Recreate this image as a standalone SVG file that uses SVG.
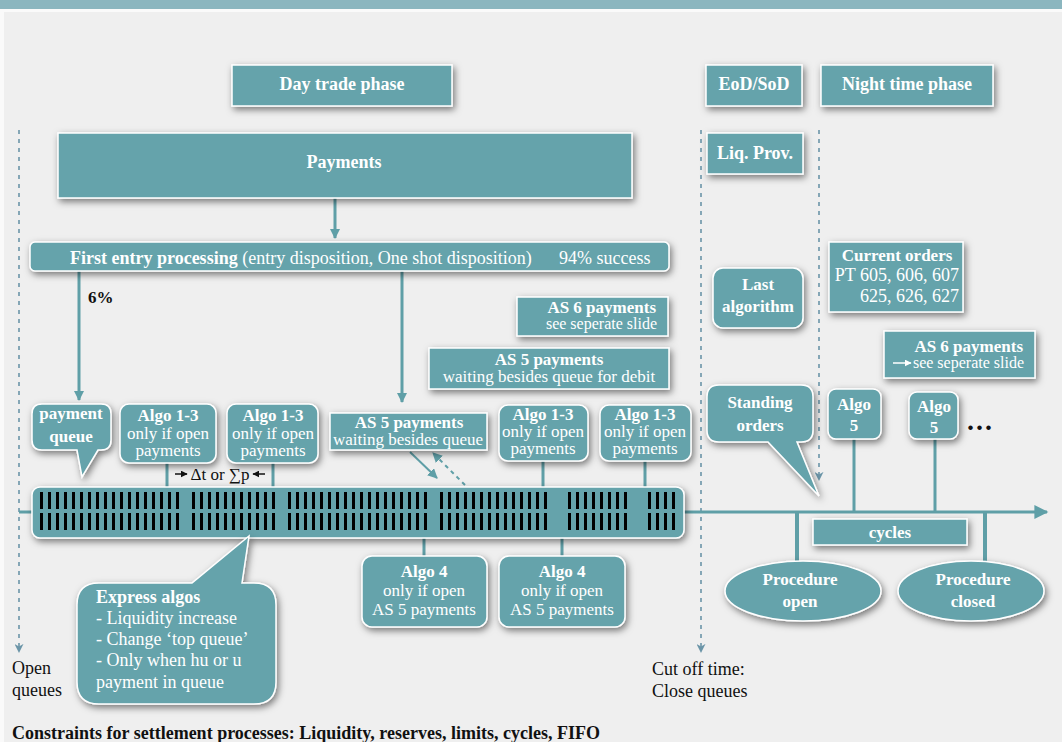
<svg xmlns="http://www.w3.org/2000/svg" width="1062" height="742" viewBox="0 0 1062 742">
<defs>
<style>
.box{fill:#65a3ab;stroke:#fff;stroke-width:1.5;filter:url(#sh)}
.t{font-family:"Liberation Serif","Times New Roman",serif;fill:#fff;text-anchor:middle;font-size:17px}
.b{font-weight:bold}
.k{fill:#111}
.s{text-anchor:start}
.l18{font-size:18px}
.ln{stroke:#5f9fa7;stroke-width:3;fill:none}
.dot{stroke:#6b95a8;stroke-width:1.6;stroke-dasharray:4 5;fill:none}
</style>
<filter id="sh" x="-20%" y="-30%" width="150%" height="180%">
<feDropShadow dx="2" dy="3" stdDeviation="3.5" flood-color="#000" flood-opacity="0.5"/>
</filter>
<marker id="ah" viewBox="0 0 10 10" refX="9" refY="5" markerWidth="10" markerHeight="10" markerUnits="userSpaceOnUse" orient="auto"><path d="M0,0 L10,5 L0,10 z" fill="#5f9fa7"/></marker>
<marker id="ahBig" viewBox="0 0 10 10" refX="9" refY="5" markerWidth="20" markerHeight="14" markerUnits="userSpaceOnUse" orient="auto"><path d="M0,0 L10,5 L0,10 z" fill="#5f9fa7"/></marker>
<marker id="ahDot" viewBox="0 0 10 10" refX="9" refY="5" markerWidth="9" markerHeight="9" markerUnits="userSpaceOnUse" orient="auto"><path d="M0,0 L10,5 L0,10 L3,5 z" fill="#6b95a8"/></marker>
<marker id="ahK" viewBox="0 0 10 10" refX="9" refY="5" markerWidth="7" markerHeight="7" markerUnits="userSpaceOnUse" orient="auto"><path d="M0,0 L10,5 L0,10 z" fill="#111"/></marker>
<marker id="ahW" viewBox="0 0 10 10" refX="9" refY="5" markerWidth="7" markerHeight="7" markerUnits="userSpaceOnUse" orient="auto"><path d="M0,0 L10,5 L0,10 z" fill="#fff"/></marker>
<pattern id="bars" x="0" y="492" width="8" height="40" patternUnits="userSpaceOnUse"><rect x="0" y="0" width="3" height="17" fill="#000"/><rect x="0" y="21" width="3" height="17" fill="#000"/></pattern>
</defs>

<rect x="0" y="0" width="1062" height="742" fill="#efefef"/>
<rect x="0" y="0" width="4" height="742" fill="#fafafa"/>
<rect x="0" y="0" width="1062" height="9" fill="#8bb6bf"/>
<rect x="0" y="9" width="1062" height="3" fill="#fafafa"/>

<g id="connectors">
<line class="dot" x1="19" y1="130" x2="19" y2="652" marker-end="url(#ahDot)"/>
<line class="dot" x1="701" y1="130" x2="701" y2="652" marker-end="url(#ahDot)"/>
<line class="dot" x1="819" y1="130" x2="819" y2="480" marker-end="url(#ahDot)"/>
<line class="ln" x1="335" y1="198" x2="335" y2="238" marker-end="url(#ah)"/>
<line class="ln" x1="79" y1="271" x2="79" y2="400" marker-end="url(#ah)"/>
<line class="ln" x1="402" y1="271" x2="402" y2="402" marker-end="url(#ah)"/>
<line class="ln" x1="19" y1="512" x2="1047" y2="512" marker-end="url(#ahBig)"/>
<line class="ln" x1="167" y1="463" x2="167" y2="488"/>
<line class="ln" x1="273" y1="463" x2="273" y2="488"/>
<line class="ln" x1="543" y1="461" x2="543" y2="488"/>
<line class="ln" x1="645" y1="461" x2="645" y2="488"/>
<line class="ln" x1="424" y1="537" x2="424" y2="556"/>
<line class="ln" x1="562" y1="537" x2="562" y2="556"/>
<line class="ln" x1="854" y1="439" x2="854" y2="512"/>
<line class="ln" x1="935" y1="439" x2="935" y2="512"/>
<line class="ln" style="stroke-width:4" x1="797" y1="512" x2="797" y2="563"/>
<line class="ln" style="stroke-width:4" x1="985" y1="512" x2="985" y2="563"/>
<line class="ln" style="stroke-width:2" x1="410" y1="452" x2="437" y2="478" marker-end="url(#ah)"/>
<line class="ln" style="stroke-width:2;stroke-dasharray:4 4" x1="465" y1="485" x2="433" y2="453" marker-end="url(#ah)"/>
<line x1="175" y1="474" x2="187" y2="474" stroke="#111" stroke-width="1.5" marker-end="url(#ahK)"/>
<line x1="265" y1="474" x2="253" y2="474" stroke="#111" stroke-width="1.5" marker-end="url(#ahK)"/>
<text class="t k" x="220" y="480">Δt or ∑p</text>
<text class="t k b s" x="88" y="303">6%</text>
</g>

<g id="day-trade-phase"><rect class="box" x="232" y="65" width="220" height="41"/><text class="t b l18" x="342" y="90">Day trade phase</text></g>
<g id="eod-sod"><rect class="box" x="706" y="65" width="96" height="41"/><text class="t b l18" x="754" y="90">EoD/SoD</text></g>
<g id="night-time-phase"><rect class="box" x="821" y="65" width="172" height="41"/><text class="t b l18" x="907" y="90">Night time phase</text></g>
<g id="payments"><rect class="box" x="58" y="133" width="574" height="65"/><text class="t b l18" x="344" y="168">Payments</text></g>
<g id="liq-prov"><rect class="box" x="707" y="133" width="96" height="41"/><text class="t b l18" x="755" y="159">Liq. Prov.</text></g>
<g id="first-entry"><rect class="box" x="30" y="242" width="639" height="29" rx="5"/><text class="t l18 s" x="70" y="264"><tspan class="b">First entry processing</tspan> (entry disposition, One shot disposition)</text><text class="t l18 s" x="559" y="264">94% success</text></g>
<g id="last-algorithm"><rect class="box" x="713" y="268" width="90" height="60" rx="10"/><text class="t b" x="758" y="290">Last</text><text class="t b" x="758" y="312">algorithm</text></g>
<g id="current-orders"><rect class="box" x="829" y="242" width="134" height="70"/><text class="t b" x="897" y="261">Current orders</text><text class="t l18" x="959" y="281" style="text-anchor:end">PT 605, 606, 607</text><text class="t l18" x="959" y="302" style="text-anchor:end">625, 626, 627</text></g>
<g id="as6-mid"><rect class="box" x="517" y="297" width="151" height="39"/><text class="t b" x="656" y="313" style="text-anchor:end">AS 6 payments</text><text class="t" x="657" y="329" style="text-anchor:end;font-size:16px">see seperate slide</text></g>
<g id="as6-right"><rect class="box" x="884" y="331" width="151" height="47"/><text class="t b" x="1023" y="352" style="text-anchor:end">AS 6 payments</text><line x1="893" y1="363" x2="911" y2="363" stroke="#fff" stroke-width="1.5" marker-end="url(#ahW)"/><text class="t" x="1024" y="368" style="text-anchor:end;font-size:16px">see seperate slide</text></g>
<g id="as5-debit"><rect class="box" x="429" y="348" width="240" height="41"/><text class="t b" x="549" y="365">AS 5 payments</text><text class="t" x="549" y="382">waiting besides queue for debit</text></g>
<g id="standing-orders"><path class="box" d="M719,385 H801 Q813,385 813,397 V430 Q813,442 801,442 H797 L819,496 L768,442 H719 Q707,442 707,430 V397 Q707,385 719,385 Z"/><text class="t b" x="760" y="408">Standing</text><text class="t b" x="760" y="431">orders</text></g>
<g id="payment-queue"><path class="box" d="M42,404 H101 Q111,404 111,414 V440 Q111,450 101,450 H98 L82,477 L77,450 H42 Q32,450 32,440 V414 Q32,404 42,404 Z"/><text class="t b" x="71" y="419">payment</text><text class="t b" x="71" y="442">queue</text></g>
<g id="algo13-1"><rect class="box" x="120" y="404" width="96" height="59" rx="9"/><text class="t b" x="168" y="421">Algo 1-3</text><text class="t" x="168" y="439">only if open</text><text class="t" x="168" y="456">payments</text></g>
<g id="algo13-2"><rect class="box" x="227" y="404" width="91" height="59" rx="9"/><text class="t b" x="273" y="421">Algo 1-3</text><text class="t" x="273" y="439">only if open</text><text class="t" x="273" y="456">payments</text></g>
<g id="as5-small"><rect class="box" x="330" y="413" width="157" height="37"/><text class="t b" x="409" y="428">AS 5 payments</text><text class="t" x="408" y="445">waiting besides queue</text></g>
<g id="algo13-3"><rect class="box" x="499" y="405" width="89" height="56" rx="9"/><text class="t b" x="543" y="420">Algo 1-3</text><text class="t" x="543" y="437">only if open</text><text class="t" x="543" y="454">payments</text></g>
<g id="algo13-4"><rect class="box" x="600" y="405" width="91" height="56" rx="9"/><text class="t b" x="645" y="420">Algo 1-3</text><text class="t" x="645" y="437">only if open</text><text class="t" x="645" y="454">payments</text></g>
<g id="algo5-1"><rect class="box" x="828" y="389" width="53" height="50" rx="8"/><text class="t b" x="854" y="410">Algo</text><text class="t b" x="854" y="431">5</text></g>
<g id="algo5-2"><rect class="box" x="909" y="392" width="49" height="47" rx="8"/><text class="t b" x="934" y="412">Algo</text><text class="t b" x="934" y="433">5</text></g>
<g id="ellipsis"><text class="t k b s" x="967" y="430" style="font-size:28px;letter-spacing:2px">...</text></g>
<g id="queue-bar"><rect class="box" x="32" y="487" width="652" height="51" rx="8"/>
<rect x="40" y="492" width="140" height="38" fill="url(#bars)"/>
<rect x="192" y="492" width="84" height="38" fill="url(#bars)"/>
<rect x="288" y="492" width="140" height="38" fill="url(#bars)"/>
<rect x="440" y="492" width="108" height="38" fill="url(#bars)"/>
<rect x="568" y="492" width="64" height="38" fill="url(#bars)"/>
<rect x="648" y="492" width="28" height="38" fill="url(#bars)"/>
</g>
<g id="cycles"><rect class="box" x="813" y="519" width="154" height="26"/><text class="t b" x="890" y="538">cycles</text></g>
<g id="algo4-1"><rect class="box" x="362" y="556" width="125" height="71" rx="10"/><text class="t b" x="424" y="577">Algo 4</text><text class="t" x="424" y="596">only if open</text><text class="t" x="424" y="615">AS 5 payments</text></g>
<g id="algo4-2"><rect class="box" x="499" y="556" width="126" height="71" rx="10"/><text class="t b" x="562" y="577">Algo 4</text><text class="t" x="562" y="596">only if open</text><text class="t" x="562" y="615">AS 5 payments</text></g>
<g id="procedure-open"><ellipse class="box" cx="803" cy="591" rx="78" ry="30"/><text class="t b" x="800" y="585">Procedure</text><text class="t b" x="800" y="607">open</text></g>
<g id="procedure-closed"><ellipse class="box" cx="971" cy="591" rx="73" ry="30"/><text class="t b" x="973" y="585">Procedure</text><text class="t b" x="973" y="607">closed</text></g>
<g id="express-algos"><path class="box" d="M99,583 H192 L249,536 L242,583 H254 Q276,583 276,605 V682 Q276,704 254,704 H99 Q77,704 77,682 V605 Q77,583 99,583 Z"/>
<text class="t b l18 s" x="96" y="603">Express algos</text>
<text class="t l18 s" x="96" y="624">- Liquidity increase</text>
<text class="t l18 s" x="96" y="645">- Change ‘top queue’</text>
<text class="t l18 s" x="96" y="666">- Only when hu or u</text>
<text class="t l18 s" x="96" y="688">payment in queue</text></g>
<g id="labels">
<text class="t k l18 s" x="12" y="674">Open</text>
<text class="t k l18 s" x="12" y="696">queues</text>
<text class="t k l18 s" x="652" y="675">Cut off time:</text>
<text class="t k l18 s" x="652" y="697">Close queues</text>
<text class="t k b l18 s" x="12" y="739">Constraints for settlement processes: Liquidity, reserves, limits, cycles, FIFO</text>
</g>
</svg>
